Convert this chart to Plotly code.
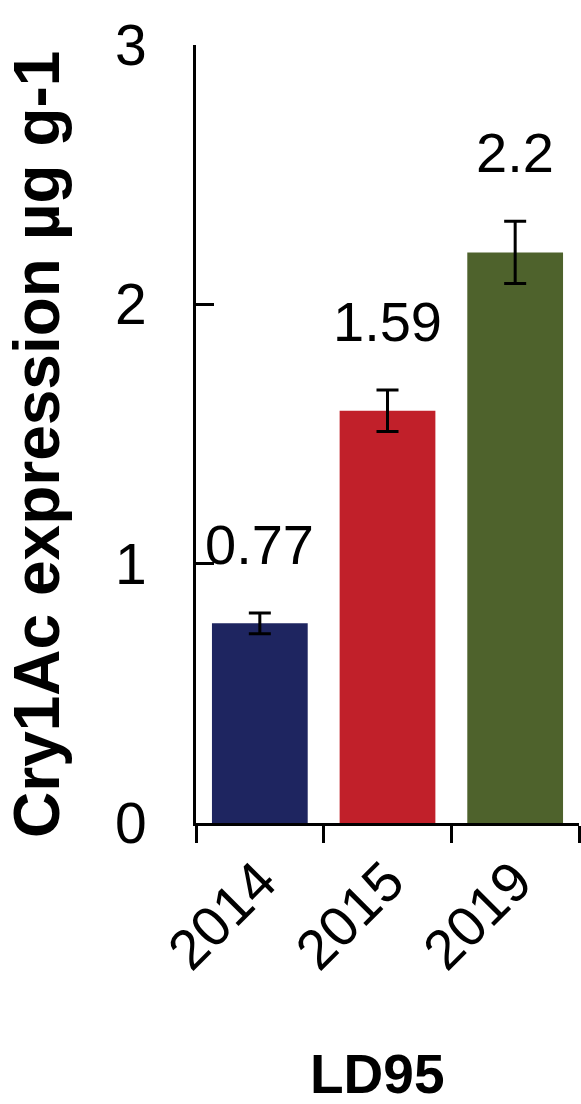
import plotly.graph_objects as go

# Cry1Ac expression by year (LD95)
years = ["2014", "2015", "2019"]
expression = [0.77, 1.59, 2.2]
errors = [0.04, 0.08, 0.12]
bar_colors = ["#1E2560", "#C1202A", "#4E622C"]
value_labels = ["0.77", "1.59", "2.2"]
y_ticks = [0, 1, 2, 3]

FONT = "Liberation Sans, Arial, sans-serif"

fig = go.Figure()
fig.add_trace(go.Bar(
    x=years,
    y=expression,
    width=0.75,
    marker=dict(color=bar_colors, line=dict(width=0)),
    error_y=dict(type="data", array=errors, visible=True,
                 color="black", thickness=3, width=11),
))

# value labels above each error bar (category index positions)
for i, (v, e, lab) in enumerate(zip(expression, errors, value_labels)):
    fig.add_annotation(x=i, y=v + e, text=lab, showarrow=False,
                       xref="x", yref="y", yanchor="bottom", yshift=35,
                       font=dict(family=FONT, size=56, color="black"))

# axis titles
fig.add_annotation(text="<b>Cry1Ac expression µg g-1</b>", textangle=-90,
                   xref="paper", yref="paper", x=-0.415, y=0.486,
                   xanchor="center", yanchor="middle", showarrow=False,
                   font=dict(family=FONT, size=64, color="black"))
fig.add_annotation(text="<b>LD95</b>", xref="paper", yref="paper",
                   x=0.475, y=-0.323, xanchor="center", yanchor="middle",
                   showarrow=False,
                   font=dict(family=FONT, size=55, color="black"))

fig.update_layout(
    width=581, height=1104,
    margin=dict(l=196, r=2, t=45, b=281),
    paper_bgcolor="white", plot_bgcolor="white",
    showlegend=False,
    bargap=0.25,
)
fig.update_xaxes(
    type="category", range=[-0.5, 2.5],
    showline=True, linecolor="black", linewidth=3,
    ticks="outside", tickson="boundaries", ticklen=17, tickwidth=3,
    tickcolor="black", tickangle=-45, showgrid=False,
    tickfont=dict(family=FONT, size=56, color="black"),
)
fig.update_yaxes(
    range=[0, 3], tickvals=y_ticks,
    showline=True, linecolor="black", linewidth=3,
    ticks="inside", ticklen=18, tickwidth=3, tickcolor="black",
    ticklabelstandoff=35,
    showgrid=False, zeroline=False,
    tickfont=dict(family=FONT, size=57, color="black"),
)

fig.write_html("out.html")
